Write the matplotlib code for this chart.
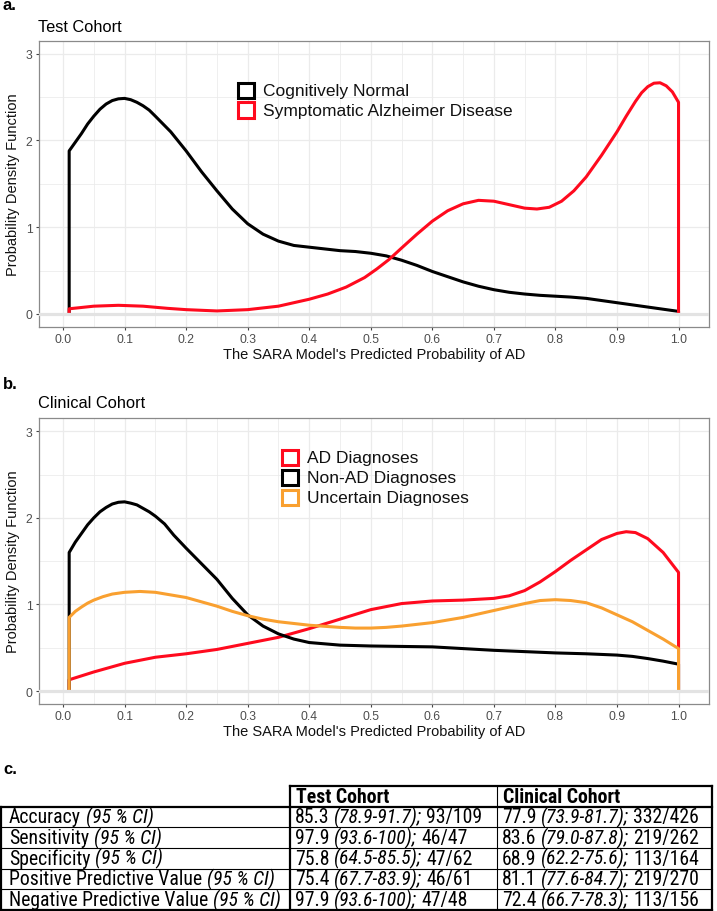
import numpy as np
import matplotlib
matplotlib.use("Agg")
import matplotlib.pyplot as plt
from matplotlib.patches import Rectangle
from matplotlib.lines import Line2D
from matplotlib import font_manager as fm

# ---------------- data ----------------
# Panel a: Test cohort densities
cn_x = [0.01, 0.02, 0.03, 0.04, 0.05, 0.06, 0.07, 0.08, 0.09, 0.1, 0.11, 0.12, 0.13, 0.14,
        0.15, 0.175, 0.2, 0.225, 0.25, 0.275, 0.3, 0.325, 0.35, 0.375, 0.4, 0.425, 0.45,
        0.475, 0.5, 0.525, 0.55, 0.575, 0.6, 0.625, 0.65, 0.675, 0.7, 0.725, 0.75, 0.775,
        0.8, 0.825, 0.85, 0.875, 0.9, 0.925, 0.95, 0.975, 1.0]
cn_y = [1.88, 1.98, 2.08, 2.19, 2.28, 2.36, 2.42, 2.46, 2.48, 2.485, 2.47, 2.44, 2.40, 2.35,
        2.28, 2.10, 1.88, 1.64, 1.42, 1.21, 1.04, 0.92, 0.84, 0.79, 0.77, 0.75, 0.73,
        0.72, 0.70, 0.67, 0.62, 0.56, 0.49, 0.43, 0.37, 0.32, 0.28, 0.25, 0.23, 0.215,
        0.205, 0.195, 0.18, 0.155, 0.13, 0.105, 0.08, 0.055, 0.03]
ad_x = [0.01, 0.05, 0.09, 0.13, 0.17, 0.2, 0.25, 0.3, 0.35, 0.4, 0.43, 0.46, 0.49, 0.51,
        0.53, 0.55, 0.575, 0.6, 0.625, 0.65, 0.675, 0.7, 0.725, 0.75, 0.77, 0.79, 0.81,
        0.83, 0.85, 0.875, 0.9, 0.915, 0.93, 0.94, 0.95, 0.96, 0.97, 0.98, 0.99, 1.0]
ad_y = [0.06, 0.09, 0.10, 0.09, 0.065, 0.05, 0.035, 0.05, 0.09, 0.17, 0.23, 0.31, 0.42, 0.52,
        0.63, 0.76, 0.92, 1.07, 1.19, 1.27, 1.31, 1.30, 1.26, 1.22, 1.21, 1.23, 1.30,
        1.42, 1.58, 1.83, 2.10, 2.28, 2.45, 2.55, 2.62, 2.66, 2.665, 2.63, 2.56, 2.44]

# Panel b: Clinical cohort densities
cad_x = [0.01, 0.05, 0.1, 0.15, 0.2, 0.25, 0.3, 0.35, 0.4, 0.45, 0.5, 0.55, 0.6, 0.65, 0.7,
         0.725, 0.75, 0.775, 0.8, 0.825, 0.85, 0.875, 0.9, 0.915, 0.93, 0.95, 0.975, 1.0]
cad_y = [0.13, 0.22, 0.32, 0.39, 0.43, 0.48, 0.55, 0.62, 0.72, 0.83, 0.94, 1.01, 1.04, 1.05,
         1.07, 1.10, 1.16, 1.26, 1.38, 1.51, 1.63, 1.75, 1.82, 1.84, 1.83, 1.76, 1.60, 1.37]
nonad_x = [0.01, 0.02, 0.03, 0.04, 0.05, 0.06, 0.07, 0.08, 0.09, 0.1, 0.11, 0.12, 0.13,
           0.14, 0.15, 0.165, 0.18, 0.2, 0.225, 0.25, 0.275, 0.3, 0.325, 0.35, 0.375, 0.4,
           0.45, 0.5, 0.55, 0.6, 0.65, 0.7, 0.75, 0.8, 0.85, 0.9, 0.925, 0.95, 0.975, 1.0]
nonad_y = [1.60, 1.72, 1.82, 1.92, 2.00, 2.07, 2.12, 2.16, 2.18, 2.185, 2.17, 2.15, 2.11,
           2.07, 2.02, 1.93, 1.80, 1.65, 1.47, 1.29, 1.07, 0.88, 0.75, 0.66, 0.60, 0.56,
           0.53, 0.52, 0.515, 0.51, 0.49, 0.47, 0.455, 0.44, 0.43, 0.415, 0.40, 0.375,
           0.345, 0.31]
unc_x = [0.01, 0.02, 0.03, 0.04, 0.05, 0.065, 0.08, 0.1, 0.125, 0.15, 0.175, 0.2, 0.225,
         0.25, 0.275, 0.3, 0.325, 0.35, 0.375, 0.4, 0.45, 0.475, 0.5, 0.525, 0.55, 0.6,
         0.65, 0.7, 0.75, 0.775, 0.8, 0.825, 0.85, 0.875, 0.9, 0.925, 0.95, 0.975, 1.0]
unc_y = [0.85, 0.92, 0.97, 1.015, 1.05, 1.09, 1.12, 1.14, 1.15, 1.14, 1.11, 1.08, 1.03,
         0.98, 0.92, 0.87, 0.83, 0.80, 0.78, 0.76, 0.735, 0.727, 0.727, 0.735, 0.75, 0.79,
         0.85, 0.93, 1.01, 1.045, 1.055, 1.045, 1.02, 0.96, 0.88, 0.80, 0.70, 0.60, 0.49]

legend_a = ["Cognitively Normal", "Symptomatic Alzheimer Disease"]
legend_b = ["AD Diagnoses", "Non-AD Diagnoses", "Uncertain Diagnoses"]

x_ticks = [0.0, 0.1, 0.2, 0.3, 0.4, 0.5, 0.6, 0.7, 0.8, 0.9, 1.0]
y_ticks = [0, 1, 2, 3]

# Panel c: table
table_cols = ["Test Cohort", "Clinical Cohort"]
metrics = ["Accuracy", "Sensitivity", "Specificity", "Positive Predictive Value",
           "Negative Predictive Value"]
test_est = ["85.3", "97.9", "75.8", "75.4", "97.9"]
test_ci = ["78.9-91.7", "93.6-100", "64.5-85.5", "67.7-83.9", "93.6-100"]
test_frac = ["93/109", "46/47", "47/62", "46/61", "47/48"]
clin_est = ["77.9", "83.6", "68.9", "81.1", "72.4"]
clin_ci = ["73.9-81.7", "79.0-87.8", "62.2-75.6", "77.6-84.7", "66.7-78.3"]
clin_frac = ["332/426", "219/262", "113/164", "219/270", "113/156"]

# ---------------- style ----------------
RED = "#FF0A1E"
BLACK = "#000000"
ORANGE = "#F9A030"
GRID = "#EBEBEB"
FONT = ["Liberation Sans", "DejaVu Sans"]
plt.rcParams["font.family"] = FONT

W, H = 717, 912
fig = plt.figure(figsize=(W / 100, H / 100), dpi=100)


def fx(x):
    return x / W


def fy(y):
    return 1 - y / H


def make_axes(top, bottom, xlab_y, left=38.7, right=709):
    ax = fig.add_axes([fx(left), fy(bottom), (right - left) / W, (bottom - top) / H])
    ax.set_xlim(-0.0395, 1.0495)
    ax.set_ylim(-0.15, 3.15)
    ax.set_xticks(x_ticks)
    ax.set_xticklabels([f"{v:.1f}" for v in x_ticks])
    ax.set_xticks(np.arange(0.05, 1.0, 0.1), minor=True)
    ax.set_yticks(y_ticks)
    ax.set_yticklabels([str(v) for v in y_ticks])
    ax.set_yticks([0.5, 1.5, 2.5], minor=True)
    ax.grid(which="major", color=GRID, lw=0.9, zorder=0)
    ax.grid(which="minor", color=GRID, lw=0.55, zorder=0)
    ax.set_axisbelow(True)
    for s in ax.spines.values():
        s.set_color("#8A8A8A")
        s.set_linewidth(0.9)
    ax.tick_params(which="major", direction="out", length=2.5, width=0.8, color="#444444",
                   labelcolor="#4D4D4D", labelsize=8.7, pad=2)
    ax.tick_params(which="minor", length=0)
    ax.set_xlabel("The SARA Model's Predicted Probability of AD", fontsize=10.5,
                  color="#111111")
    ax.set_ylabel("Probability Density Function", fontsize=10.5, color="#111111")
    ax.xaxis.set_label_coords(0.5, -(xlab_y - bottom) / (bottom - top))
    ax.yaxis.set_label_coords((20 - left) / (right - left), 0.5)
    return ax


def density(ax, xs, ys, color, z):
    xx = [xs[0]] + list(xs) + [xs[-1]]
    yy = [0] + list(ys) + [0]
    ax.plot(xx, yy, color=color, lw=2.2, zorder=z, solid_joinstyle="round",
            solid_capstyle="butt")


def legend(x0, ytop, labels, colors, textx):
    for i, (lab, col) in enumerate(zip(labels, colors)):
        y0 = ytop + i * 20
        fig.add_artist(Rectangle((fx(x0 + 1.5), fy(y0 + 17)), 16 / W, 15.5 / H,
                                 transform=fig.transFigure, facecolor="white",
                                 edgecolor=col, lw=2.2))
        fig.text(fx(textx), fy(y0 + 9.3), lab, fontsize=12.5, va="center", ha="left",
                 color="#111111")


# ---------------- panel a ----------------
ax1 = make_axes(41.7, 328, 348.5)
density(ax1, cn_x, cn_y, BLACK, 3)
density(ax1, ad_x, ad_y, RED, 4)
ax1.axhline(0, color="#E3E3E3", lw=2.3, zorder=5)

fig.text(fx(3), fy(10.5), "a.", fontsize=12, fontweight="bold", va="baseline")
fig.text(fx(38.5), fy(31.7), "Test Cohort", fontsize=11.8, va="baseline")
legend(236, 82, legend_a, [BLACK, RED], 263)

# ---------------- panel b ----------------
ax2 = make_axes(419.3, 705, 725.5)
density(ax2, cad_x, cad_y, RED, 3)
density(ax2, nonad_x, nonad_y, BLACK, 4)
density(ax2, unc_x, unc_y, ORANGE, 5)
ax2.axhline(0, color="#E3E3E3", lw=2.3, zorder=6)

fig.text(fx(3), fy(389), "b.", fontsize=12, fontweight="bold", va="baseline")
fig.text(fx(38.5), fy(408.3), "Clinical Cohort", fontsize=11.8, va="baseline")
legend(280, 449, legend_b, [RED, BLACK, ORANGE], 307)

# ---------------- panel c: table ----------------
fig.text(fx(3), fy(774), "c.", fontsize=12, fontweight="bold", va="baseline")

col_x = [1, 290, 497, 712]
hdr_top, hdr_bot = 787.3, 807.5
row_h = 20.7
rows_y = [hdr_bot + i * row_h for i in range(6)]

thick, thin = 1.6, 0.8


def hline(y, x0, x1, lw):
    fig.add_artist(Line2D([fx(x0), fx(x1)], [fy(y), fy(y)], transform=fig.transFigure,
                          color="black", lw=lw, solid_capstyle="projecting"))


def vline(x, y0, y1, lw):
    fig.add_artist(Line2D([fx(x), fx(x)], [fy(y0), fy(y1)], transform=fig.transFigure,
                          color="black", lw=lw, solid_capstyle="projecting"))


hline(hdr_top, col_x[1], col_x[3], thick)
vline(col_x[1], hdr_top, rows_y[-1], thick)
vline(col_x[2], hdr_top, rows_y[-1], thin)
vline(col_x[3], hdr_top, rows_y[-1], thick)
hline(hdr_bot, col_x[0], col_x[3], thick)
vline(col_x[0], hdr_bot, rows_y[-1], thick)
for y in rows_y[1:-1]:
    hline(y, col_x[0], col_x[3], thin)
hline(rows_y[-1], col_x[0], col_x[3], thick)

# pick a condensed face if one is installed, otherwise Liberation Sans
TFAMILY = "Liberation Sans"
for cand in ["Liberation Sans Narrow", "Arial Narrow", "Roboto Condensed",
             "Open Sans Condensed", "DejaVu Sans Condensed"]:
    try:
        fm.findfont(fm.FontProperties(family=cand), fallback_to_default=False)
        TFAMILY = cand
        break
    except Exception:
        pass
TFONT = [TFAMILY, "DejaVu Sans"]

renderer = fig.canvas.get_renderer()


def text_w(s, style, size, weight="normal"):
    t = fig.text(0, 0, s, fontsize=size, family=TFONT, style=style, fontweight=weight)
    w = t.get_window_extent(renderer).width
    t.remove()
    return w


# size so that the longest row label fills its cell as in the reference
probe = 10.0
probe_w = (text_w("Negative Predictive Value", "normal", probe)
           + (text_w("a a", "normal", probe) - text_w("aa", "normal", probe))
           + text_w("(95 % CI)", "italic", probe))
TS = min(probe * 270.0 / probe_w, 14.6)
SPACE = text_w("a a", "normal", TS) - text_w("aa", "normal", TS)

fig.text(fx(col_x[1] + 6), fy(hdr_bot - 4.4), table_cols[0], fontsize=TS,
         fontweight="bold", family=TFONT, va="baseline")
fig.text(fx(col_x[2] + 6), fy(hdr_bot - 4.4), table_cols[1], fontsize=TS,
         fontweight="bold", family=TFONT, va="baseline")


def rich(x, y, pieces):
    cx = x
    for s, style, space_after in pieces:
        fig.text(fx(cx), fy(y), s, fontsize=TS, family=TFONT, style=style, va="baseline")
        cx += text_w(s, style, TS) + (SPACE if space_after else 0)


for i in range(5):
    base = rows_y[i + 1] - 4.8
    rich(col_x[0] + 8, base, [(metrics[i], "normal", True), ("(95 % CI)", "italic", False)])
    rich(col_x[1] + 5, base, [(test_est[i], "normal", True),
                              ("(" + test_ci[i] + ");", "italic", True),
                              (test_frac[i], "normal", False)])
    rich(col_x[2] + 5, base, [(clin_est[i], "normal", True),
                              ("(" + clin_ci[i] + ");", "italic", True),
                              (clin_frac[i], "normal", False)])

fig.savefig("out.png", dpi=100)
